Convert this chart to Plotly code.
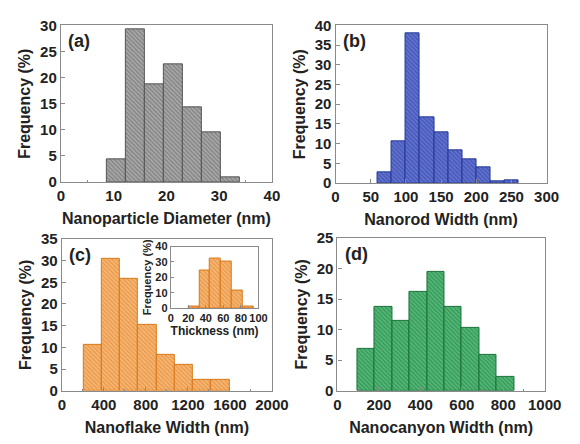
import plotly.graph_objects as go

# ---- data ----
a_centers = [10.45, 14.06, 17.68, 21.29, 24.90, 28.52, 32.13]
a_width = 3.61
a_freq = [4.3, 29.3, 18.8, 22.6, 14.4, 9.6, 1.0]

b_centers = [70, 90, 110, 130, 150, 170, 190, 210, 230, 250]
b_width = 20
b_freq = [2.8, 10.5, 38.0, 16.6, 12.9, 8.3, 6.1, 4.1, 0.5, 0.8]

c_centers = [292, 466, 640, 814, 988, 1162, 1336, 1510]
c_width = 174
c_freq = [10.6, 30.3, 25.7, 15.2, 8.3, 6.0, 2.5, 2.5]

ins_centers = [26.25, 38.75, 51.25, 63.75, 76.25, 88.75]
ins_width = 12.5
ins_freq = [1.0, 24.5, 32.0, 30.0, 11.5, 1.0]

d_centers = [138, 222, 306, 390, 474, 558, 642, 726, 810]
d_width = 84
d_freq = [6.9, 13.8, 11.5, 16.1, 19.5, 13.8, 10.3, 5.8, 2.3]

FONT = "Liberation Sans"
fig = go.Figure()

def add_bars(centers, width, freq, fill, line, xa, ya):
    fig.add_trace(go.Bar(
        x=centers, y=freq, width=[width] * len(centers),
        xaxis=xa, yaxis=ya, showlegend=False,
        marker=dict(color=fill,
                    line=dict(color=line, width=1),
                    pattern=dict(shape="\\", fgcolor=line, bgcolor=fill,
                                 size=3, solidity=0.4, fillmode="overlay")),
    ))

add_bars(a_centers, a_width, a_freq, "#a8a8a8", "#555555", "x", "y")
add_bars(b_centers, b_width, b_freq, "#6272d0", "#243896", "x2", "y2")
add_bars(c_centers, c_width, c_freq, "#f7b674", "#d87818", "x3", "y3")
add_bars(d_centers, d_width, d_freq, "#52b877", "#1a7038", "x4", "y4")
add_bars(ins_centers, ins_width, ins_freq, "#f7b674", "#d87818", "x5", "y5")

def W(px):
    return px / 580

def H(py):
    return 1 - py / 444

axcommon = dict(showline=True, linecolor="#8a8a8a", linewidth=1.2, mirror=True,
                ticks="inside", ticklen=4, tickcolor="#8a8a8a", showgrid=False,
                zeroline=False, tickfont=dict(family=FONT, size=15, color="#222"),
                title_font=dict(family=FONT, size=16, color="#222"))

def xaxis(dom, rng, dtick, title, anchor, standoff=9):
    d = dict(axcommon)
    d.update(domain=dom, range=rng, dtick=dtick, tick0=0, anchor=anchor, tickangle=0,
             title=dict(text=f"<b>{title}</b>", standoff=standoff),
             minor=dict(ticks="inside", ticklen=2, tickcolor="#8a8a8a", nticks=2))
    return d

def yaxis(dom, rng, dtick, anchor, standoff=5):
    d = dict(axcommon)
    d.update(domain=dom, range=rng, dtick=dtick, tick0=0, anchor=anchor,
             title=dict(text="<b>Frequency (%)</b>", standoff=standoff),
             minor=dict(ticks="inside", ticklen=2, tickcolor="#8a8a8a", nticks=2))
    return d

fig.update_layout(
    width=580, height=444,
    margin=dict(l=0, r=0, t=0, b=0),
    plot_bgcolor="white", paper_bgcolor="white",
    bargap=0,
    font=dict(family=FONT),
    xaxis=xaxis([W(59), W(278)], [0, 40], 10, "Nanoparticle Diameter (nm)", "y"),
    yaxis=yaxis([H(180), H(17)], [0, 30], 5, "x"),
    xaxis2=xaxis([W(344), W(563)], [0, 300], 50, "Nanorod Width (nm)", "y2"),
    yaxis2=yaxis([H(181), H(17)], [0, 40], 5, "x2"),
    xaxis3=xaxis([W(60), W(278)], [0, 2000], 400, "Nanoflake Width (nm)", "y3"),
    yaxis3=yaxis([H(397), H(239)], [0, 35], 5, "x3"),
    xaxis4=xaxis([W(346), W(561)], [0, 1000], 200, "Nanocanyon Width (nm)", "y4"),
    yaxis4=yaxis([H(397), H(238)], [0, 25], 5, "x4"),
)

for ax in ["xaxis", "yaxis", "xaxis2", "yaxis2", "xaxis3", "yaxis3", "xaxis4", "yaxis4"]:
    fig.layout[ax].tickprefix = "<b>"
    fig.layout[ax].ticksuffix = "</b>"

# inset axes
fig.update_layout(
    xaxis5=dict(domain=[W(173), W(264)], range=[0, 100], dtick=20, tick0=0, anchor="y5",
                showline=True, linecolor="#8a8a8a", linewidth=1, mirror=True, tickangle=0,
                ticks="inside", ticklen=3, tickcolor="#8a8a8a", showgrid=False, zeroline=False,
                tickprefix="<b>", ticksuffix="</b>",
                tickfont=dict(family=FONT, size=11, color="#222"),
                title=dict(text="<b>Thickness (nm)</b>", standoff=2,
                           font=dict(family=FONT, size=12, color="#222"))),
    yaxis5=dict(domain=[H(311), H(247)], range=[0, 40], dtick=10, tick0=0, anchor="x5",
                showline=True, linecolor="#8a8a8a", linewidth=1, mirror=True,
                ticks="inside", ticklen=3, tickcolor="#8a8a8a", showgrid=False, zeroline=False,
                tickprefix="<b>", ticksuffix="</b>",
                tickfont=dict(family=FONT, size=11, color="#222"),
                title=dict(text="<b>Frequency (%)</b>", standoff=1,
                           font=dict(family=FONT, size=11, color="#222"))),
)

labels = [("(a)", "x", "y"), ("(b)", "x2", "y2"), ("(c)", "x3", "y3"), ("(d)", "x4", "y4")]
for txt, xa, ya in labels:
    fig.add_annotation(text=f"<b>{txt}</b>", xref=f"{xa} domain", yref=f"{ya} domain",
                       x=0.025, y=0.975, xanchor="left", yanchor="top", showarrow=False,
                       font=dict(family=FONT, size=18, color="#222"))

fig.write_html("out.html")
